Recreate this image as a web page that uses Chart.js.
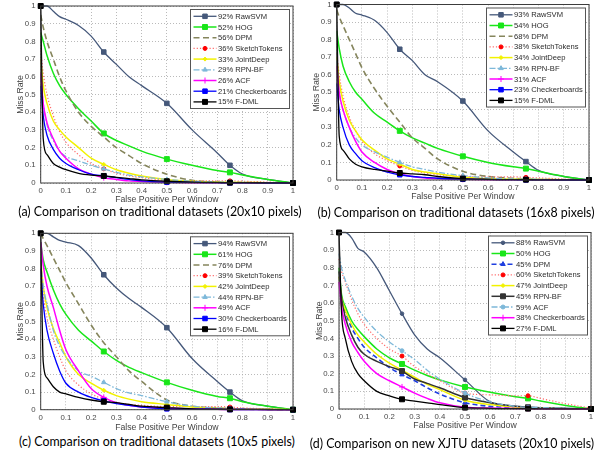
<!DOCTYPE html>
<html>
<head>
<meta charset="utf-8">
<script src="https://cdn.jsdelivr.net/npm/chart.js@4.4.1/dist/chart.umd.min.js"></script>
<style>
  body { margin: 0; background: #fff; width: 600px; height: 456px; position: relative; overflow: hidden; }
  canvas { position: absolute; }
  .cap { position: absolute; font-family: Lato, "Open Sans", sans-serif; font-size: 12.4px; line-height: 16px;
         color: #000; white-space: nowrap; transform: translateX(-50%); }
</style>
</head>
<body>
<canvas id="chA"></canvas>
<canvas id="chB"></canvas>
<canvas id="chC"></canvas>
<canvas id="chD"></canvas>
<div class="cap" style="left:160px;top:204px">(a) Comparison on traditional datasets (20x10 pixels)</div>
<div class="cap" style="left:456px;top:205px">(b) Comparison on traditional datasets (16x8 pixels)</div>
<div class="cap" style="left:157px;top:434px">(c) Comparison on traditional datasets (10x5 pixels)</div>
<div class="cap" style="left:452px;top:436px">(d) Comparison on new XJTU datasets (20x10 pixels)</div>
<script>
// x positions (false positives per window) shared by every curve
var FPPW = [0, 0.01, 0.025, 0.05, 0.075, 0.1, 0.15, 0.2, 0.25, 0.3, 0.35, 0.4, 0.5, 0.6, 0.7, 0.75, 0.8, 0.9, 1];
var TICKS = [0, 0.1, 0.2, 0.3, 0.4, 0.5, 0.6, 0.7, 0.8, 0.9, 1];
var MARKS = [0.25, 0.5, 0.75, 1];

// (a) 20x10 pixels
var legendA = ['92% RawSVM', '52% HOG', '56% DPM', '36% SketchTokens', '33% JointDeep', '29% RPN-BF', '26% ACF', '21% Checkerboards', '15% F-DML'];
var missA = [
  [1, 1, 1, 0.97, 0.94, 0.925, 0.89, 0.83, 0.74, 0.67, 0.6, 0.55, 0.45, 0.3, 0.17, 0.1, 0.05, 0.02, 0],
  [0.85, 0.8, 0.72, 0.62, 0.55, 0.5, 0.42, 0.35, 0.28, 0.24, 0.21, 0.18, 0.135, 0.1, 0.07, 0.06, 0.045, 0.02, 0],
  [0.95, 0.88, 0.8, 0.7, 0.6, 0.52, 0.4, 0.32, 0.26, 0.2, 0.155, 0.11, 0.05, 0.015, 0.006, 0.004, 0.003, 0.001, 0],
  [0.75, 0.62, 0.5, 0.38, 0.29, 0.23, 0.16, 0.11, 0.08, 0.055, 0.04, 0.03, 0.015, 0.012, 0.012, 0.012, 0.01, 0.005, 0],
  [0.7, 0.55, 0.45, 0.35, 0.3, 0.26, 0.2, 0.14, 0.105, 0.075, 0.055, 0.04, 0.02, 0.01, 0.005, 0.004, 0.003, 0.002, 0],
  [0.6, 0.45, 0.33, 0.24, 0.18, 0.15, 0.125, 0.1, 0.08, 0.06, 0.045, 0.035, 0.02, 0.01, 0.005, 0.004, 0.003, 0.002, 0],
  [0.62, 0.45, 0.34, 0.25, 0.18, 0.14, 0.08, 0.05, 0.03, 0.02, 0.012, 0.008, 0.004, 0.002, 0.001, 0.001, 0.001, 0, 0],
  [0.55, 0.38, 0.27, 0.19, 0.14, 0.11, 0.075, 0.05, 0.04, 0.03, 0.02, 0.012, 0.005, 0.003, 0.002, 0.001, 0.001, 0, 0],
  [1, 0.25, 0.16, 0.11, 0.09, 0.075, 0.055, 0.045, 0.04, 0.032, 0.025, 0.018, 0.01, 0.005, 0.003, 0.002, 0.002, 0.001, 0]
];

// (b) 16x8 pixels
var legendB = ['93% RawSVM', '54% HOG', '68% DPM', '38% SketchTokens', '34% JointDeep', '34% RPN-BF', '31% ACF', '23% Checkerboards', '15% F-DML'];
var missB = [
  [1, 1, 1, 0.98, 0.95, 0.94, 0.91, 0.84, 0.745, 0.68, 0.6, 0.56, 0.45, 0.28, 0.16, 0.105, 0.055, 0.02, 0],
  [0.85, 0.75, 0.65, 0.56, 0.5, 0.46, 0.38, 0.33, 0.28, 0.24, 0.21, 0.18, 0.135, 0.1, 0.075, 0.065, 0.05, 0.02, 0],
  [0.97, 0.93, 0.88, 0.8, 0.72, 0.64, 0.52, 0.42, 0.33, 0.24, 0.18, 0.12, 0.05, 0.02, 0.01, 0.005, 0.003, 0.001, 0],
  [0.72, 0.6, 0.48, 0.36, 0.28, 0.22, 0.15, 0.11, 0.08, 0.055, 0.04, 0.03, 0.02, 0.018, 0.018, 0.015, 0.012, 0.006, 0],
  [0.7, 0.56, 0.45, 0.34, 0.28, 0.23, 0.17, 0.12, 0.09, 0.06, 0.045, 0.035, 0.015, 0.008, 0.005, 0.004, 0.003, 0.002, 0],
  [0.68, 0.5, 0.4, 0.3, 0.24, 0.2, 0.16, 0.13, 0.1, 0.075, 0.06, 0.045, 0.025, 0.012, 0.006, 0.005, 0.004, 0.002, 0],
  [0.65, 0.5, 0.4, 0.3, 0.22, 0.16, 0.1, 0.06, 0.035, 0.02, 0.012, 0.008, 0.004, 0.002, 0.001, 0.001, 0.001, 0, 0],
  [0.55, 0.4, 0.3, 0.2, 0.15, 0.11, 0.07, 0.045, 0.03, 0.02, 0.015, 0.01, 0.005, 0.003, 0.002, 0.001, 0.001, 0, 0],
  [1, 0.25, 0.17, 0.12, 0.09, 0.075, 0.06, 0.05, 0.04, 0.035, 0.03, 0.02, 0.008, 0.004, 0.002, 0.002, 0.001, 0.001, 0]
];

// (c) 10x5 pixels
var legendC = ['94% RawSVM', '61% HOG', '76% DPM', '39% SketchTokens', '42% JointDeep', '44% RPN-BF', '49% ACF', '30% Checkerboards', '16% F-DML'];
var missC = [
  [1, 1, 1, 0.98, 0.96, 0.95, 0.93, 0.86, 0.765, 0.69, 0.63, 0.58, 0.465, 0.29, 0.16, 0.1, 0.05, 0.02, 0],
  [0.95, 0.85, 0.78, 0.68, 0.6, 0.54, 0.45, 0.39, 0.33, 0.28, 0.24, 0.21, 0.155, 0.11, 0.075, 0.065, 0.045, 0.02, 0],
  [1, 0.97, 0.93, 0.86, 0.79, 0.72, 0.6, 0.48, 0.38, 0.3, 0.22, 0.16, 0.055, 0.02, 0.01, 0.005, 0.003, 0.001, 0],
  [0.8, 0.65, 0.52, 0.4, 0.3, 0.22, 0.14, 0.09, 0.06, 0.04, 0.03, 0.025, 0.018, 0.018, 0.018, 0.015, 0.01, 0.005, 0],
  [0.85, 0.7, 0.58, 0.46, 0.38, 0.3, 0.2, 0.15, 0.11, 0.08, 0.06, 0.045, 0.03, 0.015, 0.008, 0.006, 0.004, 0.002, 0],
  [0.85, 0.7, 0.6, 0.45, 0.36, 0.3, 0.22, 0.19, 0.155, 0.12, 0.095, 0.08, 0.045, 0.02, 0.01, 0.008, 0.005, 0.002, 0],
  [0.95, 0.82, 0.7, 0.58, 0.45, 0.34, 0.22, 0.12, 0.07, 0.04, 0.025, 0.015, 0.008, 0.004, 0.002, 0.001, 0.001, 0, 0],
  [0.8, 0.6, 0.45, 0.32, 0.22, 0.15, 0.1, 0.07, 0.05, 0.035, 0.025, 0.015, 0.005, 0.003, 0.002, 0.001, 0.001, 0, 0],
  [1, 0.27, 0.18, 0.13, 0.1, 0.09, 0.07, 0.055, 0.045, 0.04, 0.03, 0.02, 0.012, 0.005, 0.003, 0.002, 0.002, 0.001, 0]
];

// (d) XJTU 20x10 pixels
var legendD = ['88% RawSVM', '50% HOG', '45% DPM', '60% SketchTokens', '47% JointDeep', '45% RPN-BF', '59% ACF', '38% Checkerboards', '27% F-DML'];
var missD = [
  [1, 1, 1, 0.97, 0.91, 0.89, 0.8, 0.67, 0.54, 0.42, 0.34, 0.29, 0.165, 0.04, 0.015, 0.01, 0.008, 0.004, 0],
  [0.8, 0.65, 0.58, 0.5, 0.45, 0.41, 0.34, 0.29, 0.255, 0.22, 0.19, 0.165, 0.125, 0.095, 0.07, 0.06, 0.045, 0.02, 0],
  [0.75, 0.62, 0.55, 0.46, 0.4, 0.35, 0.29, 0.235, 0.195, 0.16, 0.12, 0.085, 0.035, 0.015, 0.008, 0.005, 0.004, 0.002, 0],
  [0.85, 0.78, 0.72, 0.62, 0.54, 0.48, 0.4, 0.34, 0.3, 0.24, 0.2, 0.16, 0.09, 0.08, 0.075, 0.075, 0.06, 0.03, 0.005],
  [0.75, 0.63, 0.56, 0.48, 0.42, 0.38, 0.31, 0.26, 0.22, 0.18, 0.14, 0.11, 0.05, 0.025, 0.01, 0.008, 0.005, 0.002, 0],
  [0.78, 0.63, 0.52, 0.42, 0.35, 0.31, 0.27, 0.24, 0.215, 0.17, 0.145, 0.12, 0.065, 0.035, 0.015, 0.01, 0.006, 0.003, 0],
  [0.88, 0.8, 0.73, 0.64, 0.57, 0.52, 0.44, 0.38, 0.33, 0.28, 0.22, 0.17, 0.09, 0.04, 0.015, 0.01, 0.008, 0.004, 0],
  [0.72, 0.58, 0.48, 0.38, 0.32, 0.27, 0.2, 0.16, 0.125, 0.09, 0.06, 0.035, 0.01, 0.005, 0.003, 0.002, 0.001, 0, 0],
  [1, 0.55, 0.4, 0.27, 0.2, 0.16, 0.1, 0.075, 0.055, 0.045, 0.035, 0.025, 0.008, 0.004, 0.002, 0.002, 0.001, 0.001, 0]
];

// line looks, MATLAB-ish
var STYLES = {
  slate:    { color: '#45587a', width: 1.3, point: 'rect', r: 3.2 },
  slateDot: { color: '#45587a', width: 1.3, point: 'circle', r: 1.8 },
  green:    { color: '#19e619', width: 1.5, point: 'rect', r: 3.5 },
  olive:    { color: '#85855c', width: 1.6, dash: [6, 3.5], point: false },
  red:      { color: '#ff6a6a', width: 1.2, dash: [1.2, 2], point: 'circle', r: 2, fill: '#ff0000' },
  yellow:   { color: '#f2f200', width: 1.5, point: 'rectRot', r: 2 },
  cyan:     { color: '#7db8d9', width: 1.3, dash: [6, 2, 1.5, 2], point: 'triangle', r: 2.6 },
  cyanDot:  { color: '#7db8d9', width: 1.3, dash: [6, 2, 1.5, 2], point: 'circle', r: 2 },
  magenta:  { color: '#ff00ff', width: 1.5, point: 'cross', r: 3 },
  blue:     { color: '#0000ff', width: 1.3, point: 'rect', r: 3.2 },
  blueDash: { color: '#1f3fe0', width: 1.6, dash: [5, 3], point: 'triangle', r: 2.6 },
  dark:     { color: '#333333', width: 1.5, point: 'rect', r: 3.5 },
  black:    { color: '#000000', width: 1.3, point: 'rect', r: 3.5 }
};
var styleABC = ['slate', 'green', 'olive', 'red', 'yellow', 'cyan', 'magenta', 'blue', 'black'];
var styleD = ['slateDot', 'green', 'blueDash', 'red', 'yellow', 'dark', 'cyanDot', 'magenta', 'black'];

var FONT = '"Liberation Sans", Arial, sans-serif';

// canvas: [left, top, w, h], plot: [left, top, right, bottom] in page px
var PANELS = [
  { id: 'chA', legend: legendA, miss: missA, styles: styleABC, canvas: [0, 0, 300, 205], plot: [40.7, 6, 293, 183] },
  { id: 'chB', legend: legendB, miss: missB, styles: styleABC, canvas: [296, 0, 304, 202], plot: [336.7, 3.3, 589, 180] },
  { id: 'chC', legend: legendC, miss: missC, styles: styleABC, canvas: [0, 228, 300, 205], plot: [40.7, 233.3, 293, 409.7] },
  { id: 'chD', legend: legendD, miss: missD, styles: styleD, canvas: [299, 228, 301, 203], plot: [339, 231.3, 591, 409] }
];

function markerRadius(c, st) {
  if (!st.point || !c.raw) return 0;
  if (c.raw.x === 0) return c.raw.y === 1 ? st.r : 0;
  return MARKS.indexOf(c.raw.x) >= 0 ? st.r : 0;
}

// frame + legend box inside the plot
var boxLegend = {
  id: 'boxLegend',
  afterDraw: function (chart) {
    var ctx = chart.ctx, a = chart.chartArea;
    ctx.save();
    ctx.setLineDash([]);
    ctx.strokeStyle = '#3c3c3c';
    ctx.lineWidth = 1;
    ctx.strokeRect(a.left, a.top, a.right - a.left, a.bottom - a.top);

    var bw = 99, bh = 99, bx = a.right - 3.5 - bw, by = a.top + 3.5;
    ctx.fillStyle = '#fff';
    ctx.fillRect(bx, by, bw, bh);
    ctx.strokeStyle = '#555';
    ctx.strokeRect(bx, by, bw, bh);

    chart.data.datasets.forEach(function (ds, i) {
      var y = by + 6.8 + i * 10.7;
      ctx.save();
      ctx.strokeStyle = ds.borderColor;
      ctx.lineWidth = ds.borderWidth;
      ctx.setLineDash(ds.borderDash || []);
      ctx.beginPath();
      ctx.moveTo(bx + 3, y);
      ctx.lineTo(bx + 26, y);
      ctx.stroke();
      ctx.setLineDash([]);
      if (ds.pointStyle && Chart.helpers && Chart.helpers.drawPoint) {
        ctx.fillStyle = ds.pointBackgroundColor;
        ctx.strokeStyle = ds.pointBorderColor;
        ctx.lineWidth = 1;
        Chart.helpers.drawPoint(ctx, { pointStyle: ds.pointStyle, radius: ds._r, borderWidth: 1, rotation: 0 }, bx + 14.5, y);
      }
      ctx.restore();
      ctx.fillStyle = '#2a2a2a';
      ctx.font = '7.6px ' + FONT;
      ctx.textBaseline = 'middle';
      ctx.fillText(ds.label, bx + 27.5, y + 0.5);
    });
    ctx.restore();
  }
};

function makeChart(p) {
  var cv = document.getElementById(p.id);
  cv.width = p.canvas[2];
  cv.height = p.canvas[3];
  cv.style.left = p.canvas[0] + 'px';
  cv.style.top = p.canvas[1] + 'px';
  var yW = p.plot[0] - p.canvas[0];
  var padTop = p.plot[1] - p.canvas[1];
  var padRight = p.canvas[0] + p.canvas[2] - p.plot[2];
  var xH = p.canvas[1] + p.canvas[3] - p.plot[3];

  var datasets = p.miss.map(function (vals, i) {
    var st = STYLES[p.styles[i]];
    return {
      label: p.legend[i],
      data: FPPW.map(function (x, k) { return { x: x, y: vals[k] }; }),
      borderColor: st.color,
      borderWidth: st.width,
      borderDash: st.dash || [],
      pointStyle: st.point || false,
      _r: st.r,
      pointRadius: function (c) { return markerRadius(c, st); },
      pointHoverRadius: 0,
      pointBackgroundColor: st.fill || st.color,
      pointBorderColor: st.fill || st.color,
      pointBorderWidth: 1,
      cubicInterpolationMode: 'monotone',
      fill: false,
      clip: false,
      order: 20 - i
    };
  });

  var gridOpts = { color: '#a8a8a8', lineWidth: 0.8, drawTicks: false };
  var tickFont = { family: FONT, size: 7.8 };
  var titleFont = { family: FONT, size: 8.7 };

  new Chart(cv, {
    type: 'line',
    data: { datasets: datasets },
    plugins: [boxLegend],
    options: {
      responsive: false,
      animation: false,
      devicePixelRatio: 1,
      layout: { padding: { top: padTop, right: padRight, left: 0, bottom: 0 } },
      plugins: { legend: { display: false }, tooltip: { enabled: false } },
      scales: {
        x: {
          type: 'linear', min: 0, max: 1,
          afterBuildTicks: function (s) { s.ticks = TICKS.map(function (v) { return { value: v }; }); },
          afterFit: function (s) { s.height = xH; s.paddingLeft = 0; s.paddingRight = 0; },
          grid: gridOpts,
          border: { display: false, dash: [1, 2] },
          ticks: { color: '#4a4a4a', font: tickFont, padding: 3, maxRotation: 0, autoSkip: false,
                   callback: function (v) { return String(v); } },
          title: { display: true, text: 'False Positive Per Window', color: '#444', font: titleFont,
                   padding: { top: 0, bottom: 0 } }
        },
        y: {
          type: 'linear', min: 0, max: 1,
          afterBuildTicks: function (s) { s.ticks = TICKS.map(function (v) { return { value: v }; }); },
          afterFit: function (s) { s.width = yW; s.paddingTop = 0; s.paddingBottom = 0; },
          grid: gridOpts,
          border: { display: false, dash: [1, 2] },
          ticks: { color: '#4a4a4a', font: tickFont, padding: 5, autoSkip: false,
                   callback: function (v) { return String(v); } },
          title: { display: true, text: 'Miss Rate', color: '#444', font: titleFont,
                   padding: { top: 15, bottom: 0 } }
        }
      }
    }
  });
}

PANELS.forEach(makeChart);
</script>
</body>
</html>
